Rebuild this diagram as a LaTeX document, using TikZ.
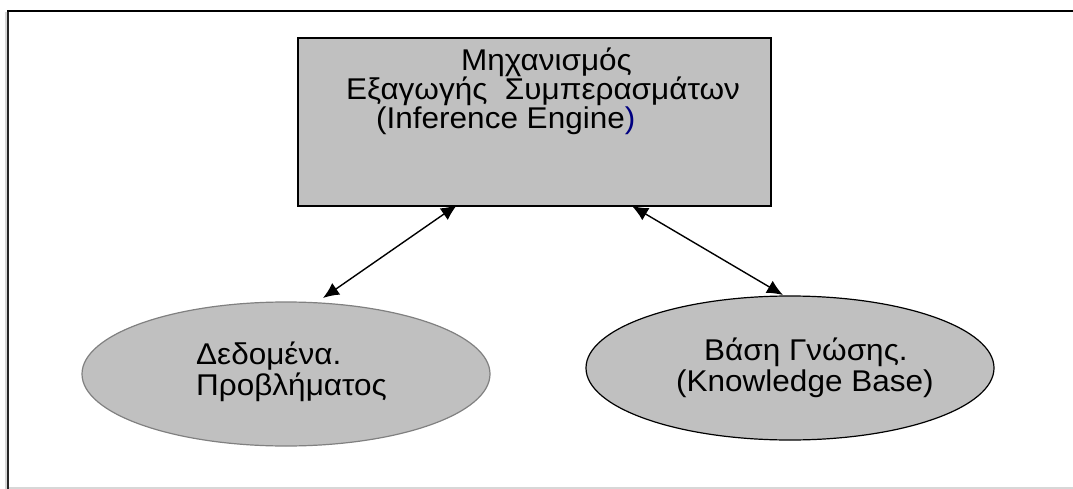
\documentclass[tikz,border=0pt]{standalone}
\usepackage{fontspec}
\setmainfont{Liberation Sans}
\usetikzlibrary{arrows.meta,shapes.geometric}
\definecolor{boxgray}{RGB}{192,192,192}
\definecolor{navy}{RGB}{0,0,128}
\definecolor{edgegray}{RGB}{128,128,128}
\definecolor{framegray}{RGB}{215,215,215}
\tikzset{
  lbl/.style={anchor=base west, inner sep=0pt, font=\fontsize{30}{31}\selectfont},
  ell/.style={ellipse, fill=boxgray, minimum width=408pt, minimum height=144pt, inner sep=0pt, line width=1.2pt},
  link/.style={line width=1.4pt, {Latex[length=16pt,width=14pt]}-{Latex[length=16pt,width=14pt]}},
}
\newcommand{\widetxt}[1]{\scalebox{1.05}[1]{#1}}
\begin{document}
\begin{tikzpicture}[x=1pt,y=-1pt]
\useasboundingbox (0,0) rectangle (1073,489);
% frame
\draw[framegray, line width=2pt] (8,488) -- (1073,488);
\draw[framegray, line width=2pt] (6,12) -- (6,489);
\draw[black!85, line width=2pt] (8,11) -- (8,489);
\draw[black, line width=2.2pt] (7,11) -- (1073,11);
% box
\node[draw, line width=1.6pt, fill=boxgray, minimum width=473pt, minimum height=168pt, inner sep=0pt, anchor=north west] (box) at (297,37) {};
\node[lbl] (t1) at (461,71) {\widetxt{Μηχανισμός}};
\node[lbl] (t2) at (346,100) {\widetxt{Εξαγωγής\ \ Συμπερασμάτων}};
\node[lbl] (t3) at (376,129) {\widetxt{(Inference Engine\textcolor{navy}{)}}};
% ellipses
\node[ell, draw=edgegray] (e1) at (286,374) {};
\node[ell, draw=black] (e2) at (790,368) {};
\node[lbl] (d1) at (196,364) {\widetxt{Δεδομένα.}};
\node[lbl] (d2) at (196,395) {\widetxt{Προβλήματος}};
\node[lbl] (k1) at (704,360) {\widetxt{Βάση Γνώσης.}};
\node[lbl] (k2) at (676,391) {\widetxt{(Knowledge Base)}};
% connectors
\coordinate (a1) at (457,205);
\coordinate (b1) at (323,298);
\coordinate (a2) at (632,206);
\coordinate (b2) at (783,295);
\draw[link] (a1) -- (b1);
\draw[link] (a2) -- (b2);
\end{tikzpicture}
\end{document}
